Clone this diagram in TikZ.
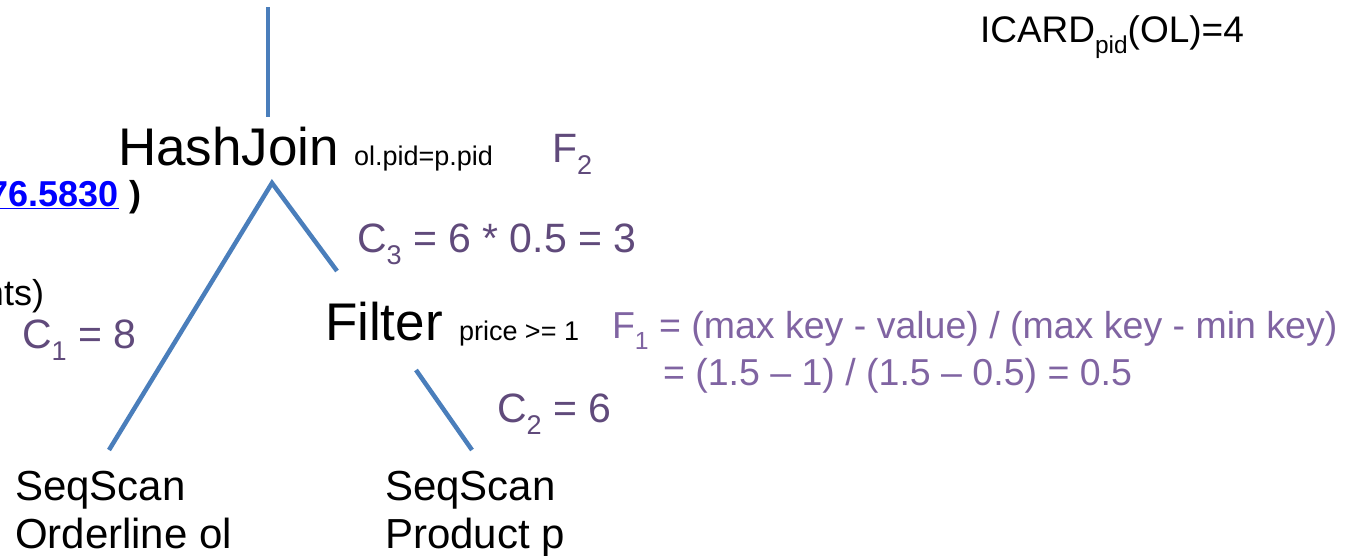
\documentclass[tikz,border=0pt]{standalone}
\usepackage{fontspec}
\setmainfont{Liberation Sans}
\definecolor{lineblue}{HTML}{4A7EBB}
\definecolor{cpurple}{HTML}{604A7B}
\definecolor{fpurple}{HTML}{8064A2}
\definecolor{linkblue}{HTML}{0000FF}
\newcommand{\lsub}[1]{\raisebox{-0.3em}{\scalebox{0.66}{#1}}}
\newcommand{\fsz}[1]{\fontsize{#1}{#1}\selectfont}
\tikzset{
  txt/.style={anchor=base west, inner sep=0pt, outer sep=0pt},
  big/.style={txt, font=\fsz{53}},
  small/.style={txt, font=\fsz{27}},
  cost/.style={txt, font=\fsz{41}, text=cpurple},
  sel/.style={txt, font=\fsz{37.5}, text=fpurple},
  scan/.style={txt, font=\fontsize{42}{48}\selectfont, align=left},
  edge/.style={draw=lineblue, line width=4.5pt}
}
\begin{document}
\begin{tikzpicture}[x=1pt, y=-1pt]
\useasboundingbox (0,0) rectangle (1347,555);
\clip (0,0) rectangle (1347,555);
% operators
\node[big] (hj) at (118,165) {HashJoin};
\node[small] (hjc) at (354,165) {ol.pid=p.pid};
\node[big] (fl) at (325,340) {Filter};
\node[small] (flc) at (459,340) {price >= 1};
\node[scan] (s1) at (15,548) {SeqScan\\Orderline ol};
\node[scan] (s2) at (385,548) {SeqScan\\Product p};
% cost labels
\node[cost] (f2) at (552,162) {F\lsub{2}};
\node[cost] (c3) at (357,252) {C\lsub{3} = 6 * 0.5 = 3};
\node[cost] (c1) at (22,348) {C\lsub{1} = 8};
\node[cost] (c2) at (497,422) {C\lsub{2} = 6};
\node[sel] (f1a) at (612,338) {F\lsub{1} = (max key - value) / (max key - min key)};
\node[sel] (f1b) at (663,385) {= (1.5 -- 1) / (1.5 -- 0.5) = 0.5};
% cut-off texts
\node[txt, font=\fsz{37}] (icard) at (980,42) {ICARD\lsub{pid}(OL)=4};
\node[txt, anchor=base east, font=\fsz{36}\bfseries] (cost) at (141,206)
  {\textcolor{linkblue}{\underline{76.5830}} )};
\node[txt, anchor=base east, font=\fsz{36}] (nts) at (44,305) {nts)};
% connector end points
\coordinate (up) at (268,7);
\coordinate (hjtop) at (268,117);
\coordinate (apex) at (272,183);
\coordinate (lend) at (109,450);
\coordinate (rend) at (337,271);
\coordinate (ftop) at (416,370);
\coordinate (fend) at (472,450);
\draw[edge] (up) -- (hjtop);
\draw[edge] (lend) -- (apex) -- (rend);
\draw[edge] (ftop) -- (fend);
\end{tikzpicture}
\end{document}
